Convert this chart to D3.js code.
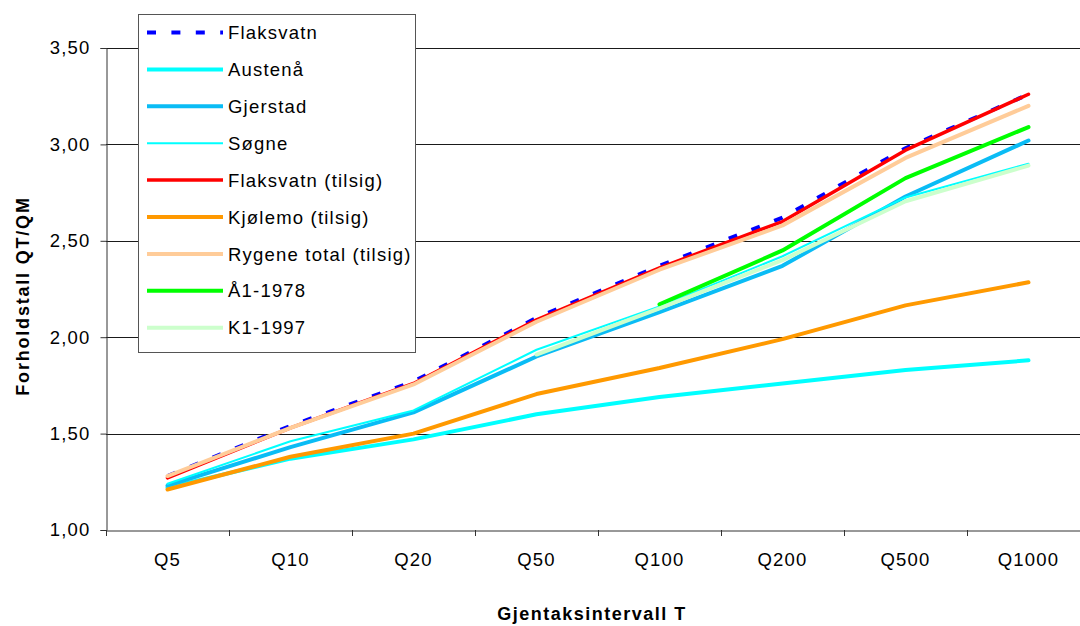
<!DOCTYPE html>
<html>
<head>
<meta charset="utf-8">
<script src="https://cdn.jsdelivr.net/npm/d3@7"></script>
<style>
  html, body { margin: 0; padding: 0; background: #fff; }
  svg { display: block; font-family: "Liberation Sans", Arial, sans-serif; }
</style>
</head>
<body>
<svg id="chart" width="1080" height="626"></svg>
<script>
// Return periods on the x axis
const categories = ["Q5", "Q10", "Q20", "Q50", "Q100", "Q200", "Q500", "Q1000"];

// Ratio QT/QM per station (null = no value)
const flaksvatn        = [1.28, 1.54, 1.77, 2.10, 2.37, 2.62, 2.98, 3.26];
const austena          = [1.22, 1.37, 1.47, 1.60, 1.69, 1.76, 1.83, 1.88];
const gjerstad         = [1.23, 1.43, 1.61, 1.90, 2.13, 2.37, 2.73, 3.02];
const sogne            = [1.24, 1.46, 1.62, 1.935, 2.16, 2.42, 2.725, 2.90];
const flaksvatnTilsig  = [1.27, 1.53, 1.76, 2.09, 2.36, 2.60, 2.97, 3.26];
const kjolemoTilsig    = [1.21, 1.38, 1.50, 1.705, 1.84, 1.99, 2.165, 2.285];
const rygeneTilsig     = [1.28, 1.53, 1.755, 2.08, 2.35, 2.58, 2.93, 3.20];
const a1_1978          = [null, null, null, null, 2.17, 2.45, 2.825, 3.09];
const k1_1997          = [null, null, null, 1.91, 2.15, 2.40, 2.705, 2.89];

const seriesNames = ["Flaksvatn", "Austenå", "Gjerstad", "Søgne", "Flaksvatn (tilsig)",
                     "Kjølemo (tilsig)", "Rygene total (tilsig)", "Å1-1978", "K1-1997"];

// Y axis ticks
const yTicks = [1.0, 1.5, 2.0, 2.5, 3.0, 3.5];

const series = [
  { name: seriesNames[0], values: flaksvatn,       color: "#0000ff", width: 4,   dash: "9,15.4" },
  { name: seriesNames[1], values: austena,         color: "#00ffff", width: 4 },
  { name: seriesNames[2], values: gjerstad,        color: "#0abcf5", width: 4 },
  { name: seriesNames[3], values: sogne,           color: "#00ffff", width: 2 },
  { name: seriesNames[4], values: flaksvatnTilsig, color: "#ff0000", width: 3.5 },
  { name: seriesNames[5], values: kjolemoTilsig,   color: "#ff9900", width: 4 },
  { name: seriesNames[6], values: rygeneTilsig,    color: "#ffcc99", width: 4 },
  { name: seriesNames[7], values: a1_1978,         color: "#00ff00", width: 4 },
  { name: seriesNames[8], values: k1_1997,         color: "#ccffcc", width: 4 }
];

const svg = d3.select("#chart");
const plot = { left: 106, right: 1090, top: 48, bottom: 530 };

const x = d3.scaleBand().domain(categories).range([plot.left, plot.right]).padding(0);
const y = d3.scaleLinear().domain([1, 3.5]).range([plot.bottom, plot.top]);

const nb = d3.formatLocale({ decimal: ",", thousands: " ", grouping: [3], currency: ["", " kr"] });
const fmt = nb.format(".2f");

// Horizontal gridlines
svg.append("g")
  .selectAll("line")
  .data(yTicks.slice(1))
  .join("line")
  .attr("x1", plot.left).attr("x2", plot.right)
  .attr("y1", d => Math.round(y(d)) + 0.5).attr("y2", d => Math.round(y(d)) + 0.5)
  .attr("stroke", "#1a1a1a").attr("stroke-width", 1);

// Y axis
const yAxis = svg.append("g")
  .attr("transform", `translate(${plot.left + 0.5},0)`)
  .call(d3.axisLeft(y).tickValues(yTicks).tickFormat(fmt).tickSize(6).tickPadding(10));
yAxis.select(".domain").attr("stroke", "#333");
yAxis.selectAll(".tick line").attr("stroke", "#333");
yAxis.selectAll(".tick text")
  .attr("font-size", 18.5).attr("fill", "#000")
  .attr("font-family", "'Liberation Sans', Arial, sans-serif")
  .attr("letter-spacing", 1.2);

// X axis (labels at band centres, ticks at band boundaries)
const xAxis = svg.append("g")
  .attr("transform", `translate(0,${plot.bottom + 0.5})`)
  .call(d3.axisBottom(x).tickSize(0).tickPadding(22));
xAxis.select(".domain").attr("stroke", "#333");
xAxis.selectAll(".tick text")
  .attr("font-size", 18.5).attr("fill", "#000")
  .attr("font-family", "'Liberation Sans', Arial, sans-serif")
  .attr("letter-spacing", 1.2);
svg.append("g")
  .selectAll("line")
  .data(categories)
  .join("line")
  .attr("x1", d => Math.round(x(d)) + 0.5).attr("x2", d => Math.round(x(d)) + 0.5)
  .attr("y1", plot.bottom).attr("y2", plot.bottom + 6)
  .attr("stroke", "#333");

// Series lines
const line = d3.line()
  .defined(d => d != null)
  .x((d, i) => x(categories[i]) + x.bandwidth() / 2)
  .y(d => y(d));

svg.append("g")
  .selectAll("path")
  .data(series)
  .join("path")
  .attr("d", s => line(s.values))
  .attr("fill", "none")
  .attr("stroke", s => s.color)
  .attr("stroke-width", s => s.width)
  .attr("stroke-dasharray", s => s.dash || null)
  .attr("stroke-linejoin", "round")
  .attr("stroke-linecap", s => s.dash ? "butt" : "round");

// Axis titles
svg.append("text")
  .attr("transform", "translate(29,296) rotate(-90)")
  .attr("text-anchor", "middle")
  .attr("font-size", 18).attr("font-weight", "bold")
  .attr("letter-spacing", 1.8)
  .text("Forholdstall QT/QM");

svg.append("text")
  .attr("x", 592).attr("y", 620)
  .attr("text-anchor", "middle")
  .attr("font-size", 18).attr("font-weight", "bold")
  .attr("letter-spacing", 1.5)
  .text("Gjentaksintervall T");

// Legend
const legend = svg.append("g");
legend.append("rect")
  .attr("x", 138.5).attr("y", 14.5).attr("width", 277).attr("height", 338)
  .attr("fill", "#fff").attr("stroke", "#555").attr("stroke-width", 1);

const rows = legend.selectAll("g.row")
  .data(series)
  .join("g")
  .attr("class", "row")
  .attr("transform", (d, i) => `translate(0,${32.5 + i * 36.9})`);
rows.append("line")
  .attr("x1", 147).attr("x2", 223)
  .attr("stroke", d => d.color)
  .attr("stroke-width", d => d.width)
  .attr("stroke-dasharray", d => d.dash || null);
rows.append("text")
  .attr("x", 228).attr("y", 6.6)
  .attr("font-size", 18.5).attr("letter-spacing", 1.2)
  .attr("fill", "#000")
  .text(d => d.name);
</script>
</body>
</html>
